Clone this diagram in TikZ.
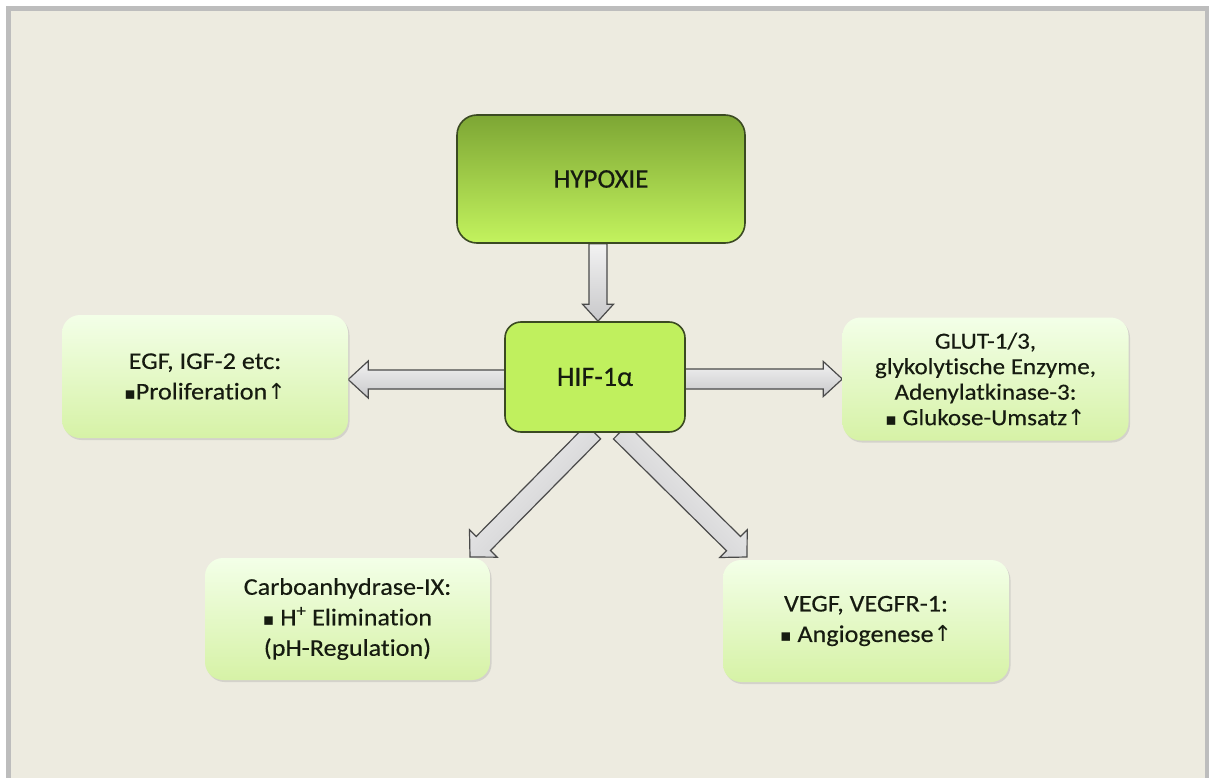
\documentclass[tikz,border=0pt]{standalone}
\usepackage{fontspec}
\setmainfont[Ligatures=NoCommon,FakeBold=0.35]{Carlito}
\newfontfamily\boxf[Ligatures=NoCommon,FakeStretch=1.09,FakeBold=0.35]{Carlito}
\newfontfamily\symf{DejaVu Sans}
\usetikzlibrary{calc}
\pgfdeclarelayer{bg}
\pgfsetlayers{bg,main}
\definecolor{bgc}{HTML}{EDEBE0}
\definecolor{framec}{HTML}{BDBDBD}
\definecolor{darkgreen}{HTML}{7DA634}
\definecolor{limegreen}{HTML}{C3F35E}
\definecolor{hifgreen}{HTML}{C0F05E}
\definecolor{boxedge}{HTML}{3B4A22}
\definecolor{lighttop}{HTML}{F3FFE8}
\definecolor{lightbot}{HTML}{D6F2A6}
\definecolor{arrowedge}{HTML}{4A4A4A}
\definecolor{arrowlight}{HTML}{F2F2F2}
\definecolor{arrowdark}{HTML}{C8C8CA}
\definecolor{txt}{HTML}{161B10}
\newcommand\bul{{\symf\fontsize{17}{17}\selectfont ▪}}
\newcommand\upar{{\symf\fontsize{22}{22}\selectfont ↑}}
\newcommand\blockarrow[6]{%
  \coordinate (ba-h) at ($(#2)!#5!(#1)$);
  \draw[barrow,shading angle=#6] ($(#1)!#3!90:(#2)$) -- ($(ba-h)!#3!-90:(#1)$) -- ($(ba-h)!#4!-90:(#1)$) -- (#2) -- ($(ba-h)!#4!90:(#1)$) -- ($(ba-h)!#3!90:(#1)$) -- ($(#1)!#3!-90:(#2)$) -- cycle;}
\tikzset{
  barrow/.style={draw=arrowedge, line width=1.2pt, line join=miter, top color=arrowlight, bottom color=arrowdark},
  darkbox/.style={draw=boxedge, line width=1.6pt, rounded corners=20pt, top color=darkgreen, bottom color=limegreen, text=txt, align=center},
  hifbox/.style={draw=boxedge, line width=1.6pt, rounded corners=16pt, fill=hifgreen, text=txt, align=center},
  lightbox/.style={rounded corners=18pt, top color=lighttop, bottom color=lightbot, text=txt, align=center, minimum width=286pt, minimum height=123pt, inner sep=0pt,
    preaction={fill=black!35, opacity=0.35, transform canvas={shift={(1.5pt,-2pt)}}}},
  bigtxt/.style={font=\boxf\fontsize{24}{30.5}\selectfont},
}
\begin{document}
\begin{tikzpicture}[x=1pt,y=-1pt]
\useasboundingbox (0,0) rectangle (1209,778);

\node[darkbox, minimum width=288pt, minimum height=128pt, font=\fontsize{27}{32}\selectfont] (hyp) at (601,179) {HYPOXIE};
\node[hifbox, minimum width=180pt, minimum height=110pt, font=\fontsize{28}{30}\selectfont] (hif) at (595,377) {HIF-1α};
\node[lightbox, bigtxt] (egf) at (205,376.5) {EGF, IGF-2 etc:\\\bul Proliferation\upar};
\node[lightbox, font=\boxf\fontsize{23}{25.5}\selectfont] (glut) at (985.5,379) {GLUT-1/3,\\glykolytische Enzyme,\\Adenylatkinase-3:\\\bul\ Glukose-Umsatz\upar};
\node[lightbox, bigtxt, minimum width=285pt, minimum height=122pt] (carbo) at (347.5,619) {Carboanhydrase-IX:\\\bul\ H\textsuperscript{+} Elimination\\(pH-Regulation)};
\node[lightbox, bigtxt, minimum width=286pt, minimum height=122pt] (vegf) at (866,621) {VEGF, VEGFR-1:\\\bul\ Angiogenese\upar};

\begin{pgfonlayer}{bg}
\fill[white] (0,0) rectangle (1209,778);
\draw[framec, line width=5pt, fill=bgc] (8.5,8.5) rectangle (1207,800);
\coordinate (d0) at ($(hyp.south)+(-3,0)$);
\coordinate (d1) at (d0 |- hif.north);
\blockarrow{d0}{d1}{9pt}{15.5pt}{17pt}{0}
\coordinate (l0) at ($(hif.west)+(1,2.5)$);
\coordinate (l1) at (egf.east |- l0);
\blockarrow{l0}{l1}{9.5pt}{18.5pt}{20pt}{0}
\coordinate (r0) at ($(hif.east)+(-1,2)$);
\coordinate (r1) at (glut.west |- r0);
\blockarrow{r0}{r1}{10pt}{17.5pt}{19pt}{0}
\coordinate (dl0) at ($(hif.south)+(-1.5,-1)$);
\coordinate (dl1) at (470,557);
\blockarrow{dl0}{dl1}{10pt}{19.5pt}{19pt}{45}
\coordinate (dr0) at ($(hif.south)+(25.5,-1)$);
\coordinate (dr1) at (747,557);
\blockarrow{dr0}{dr1}{10pt}{19.5pt}{19pt}{-45}
\end{pgfonlayer}
\end{tikzpicture}
\end{document}
